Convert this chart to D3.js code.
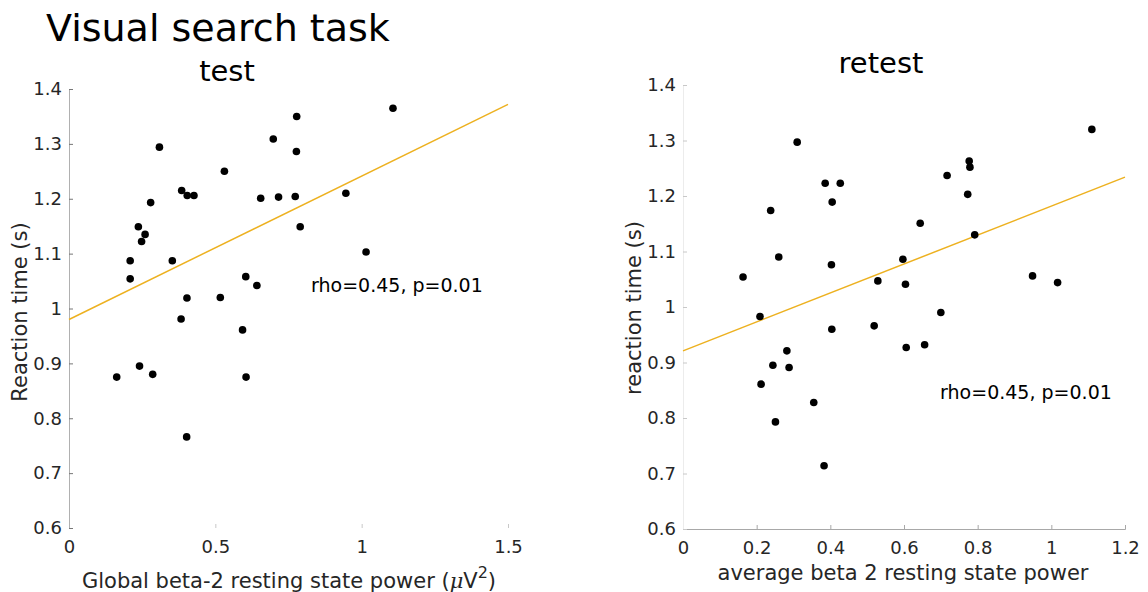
<!DOCTYPE html>
<html>
<head>
<meta charset="utf-8">
<script src="https://cdn.jsdelivr.net/npm/d3@7"></script>
<style>
  body { margin: 0; background: #fff; }
  text { font-family: "DejaVu Sans", sans-serif; }
</style>
</head>
<body>
<svg id="chart" width="1148" height="592"></svg>
<script>
// test session: global beta-2 power vs reaction time
const testPower = [0.163, 0.209, 0.209, 0.237, 0.248, 0.260, 0.279, 0.309, 0.353, 0.385, 0.404,
  0.427, 0.531, 0.655, 0.604, 0.642, 0.403, 0.517, 0.383, 0.593, 0.241, 0.286, 0.605, 0.402,
  1.107, 0.778, 0.698, 0.777, 0.716, 0.773, 0.946, 0.790, 1.015];
const testRT = [0.875, 1.087, 1.054, 1.149, 1.122, 1.135, 1.193, 1.294, 1.087, 1.215, 1.206,
  1.206, 1.250, 1.201, 1.058, 1.042, 1.019, 1.020, 0.981, 0.961, 0.895, 0.880, 0.875, 0.766,
  1.365, 1.350, 1.309, 1.286, 1.203, 1.204, 1.210, 1.149, 1.103];
const testFit = [[0, 0.98], [1.5, 1.372]];

// retest session
const retestPower = [0.310, 0.386, 0.427, 0.405, 0.238, 0.260, 0.163, 0.403, 0.529, 0.209, 0.404,
  0.519, 0.282, 0.244, 0.288, 0.212, 0.355, 0.251, 0.383, 1.110, 0.777, 0.779, 0.717, 0.773,
  0.644, 0.792, 0.597, 0.604, 0.949, 1.017, 0.606, 0.656, 0.700];
const retestRT = [1.297, 1.223, 1.223, 1.189, 1.174, 1.090, 1.054, 1.076, 1.047, 0.983, 0.960,
  0.966, 0.921, 0.895, 0.891, 0.861, 0.828, 0.793, 0.714, 1.320, 1.263, 1.252, 1.237, 1.203,
  1.151, 1.130, 1.086, 1.041, 1.056, 1.044, 0.927, 0.932, 0.990];
const retestFit = [[0, 0.921], [1.2, 1.234]];

const yTicks = [0.6, 0.7, 0.8, 0.9, 1, 1.1, 1.2, 1.3, 1.4];
const testXTicks = [0, 0.5, 1, 1.5];
const retestXTicks = [0, 0.2, 0.4, 0.6, 0.8, 1, 1.2];

const svg = d3.select('#chart');
const lineColor = '#EDB120';
const textColor = '#262626';

function drawPanel(p) {
    const x = d3.scaleLinear().domain(p.xDomain).range(p.xRange);
    const y = d3.scaleLinear().domain([0.6, 1.4]).range(p.yRange);
    const g = svg.append('g');

    const xAxis = g.append('g').attr('transform', `translate(0,${p.yRange[0]})`)
        .call(d3.axisBottom(x).tickValues(p.xTicks).tickFormat(d => d).tickSize(-4).tickPadding(12));
    xAxis.select('.domain').attr('stroke', p.xDomainColor);
    xAxis.selectAll('.tick line').attr('stroke', p.xTickColor);
    xAxis.selectAll('.tick text').attr('font-size', 18).attr('fill', textColor);

    const yAxis = g.append('g').attr('transform', `translate(${p.xRange[0]},0)`)
        .call(d3.axisLeft(y).tickValues(yTicks).tickFormat(d => d).tickSize(-4).tickPadding(7));
    yAxis.select('.domain').attr('stroke', p.yDomainColor);
    yAxis.selectAll('.tick line').attr('stroke', p.yTickColor);
    yAxis.selectAll('.tick text').attr('font-size', 18).attr('fill', textColor);

    g.append('path').datum(p.fit)
        .attr('d', d3.line().x(d => x(d[0])).y(d => y(d[1])))
        .attr('fill', 'none').attr('stroke', lineColor).attr('stroke-width', 1.5);

    g.append('g').selectAll('circle').data(p.xs).join('circle')
        .attr('cx', d => x(d)).attr('cy', (d, i) => y(p.ys[i]))
        .attr('r', 3.8).attr('fill', '#000');

    g.append('text').attr('x', x(p.rho[0])).attr('y', y(p.rho[1]))
        .attr('font-size', 19).attr('fill', '#000').attr('dominant-baseline', 'middle')
        .text('rho=0.45, p=0.01');

    g.append('text').attr('x', p.titlePos[0]).attr('y', p.titlePos[1])
        .attr('text-anchor', 'middle').attr('font-size', 29).attr('fill', '#000')
        .text(p.title);

    g.append('text').attr('transform', `translate(${p.yLabelPos[0]},${p.yLabelPos[1]}) rotate(-90)`)
        .attr('text-anchor', 'middle').attr('font-size', 21).attr('fill', textColor)
        .text(p.yLabel);

    const xl = g.append('text').attr('x', p.xLabelPos[0]).attr('y', p.xLabelPos[1])
        .attr('text-anchor', 'middle').attr('font-size', 21).attr('fill', textColor);
    p.xLabel(xl);
}

drawPanel({
    xDomain: [0, 1.5], xRange: [69, 508], yRange: [528, 89],
    xTicks: testXTicks, xs: testPower, ys: testRT, fit: testFit,
    xDomainColor: 'none', xTickColor: '#c8c8c8', yDomainColor: '#b0b0b0', yTickColor: '#777',
    rho: [0.827, 1.041], title: 'test', titlePos: [227, 81],
    yLabel: 'Reaction time (s)', yLabelPos: [27, 312], xLabelPos: [289, 588],
    xLabel: t => {
        t.append('tspan').text('Global beta-2 resting state power (');
        t.append('tspan').attr('font-style', 'italic').attr('font-family', '"DejaVu Serif", serif').text('μ');
        t.append('tspan').text('V');
        t.append('tspan').attr('font-size', 16).attr('dy', -10).text('2');
        t.append('tspan').attr('dy', 10).text(')');
    }
});

drawPanel({
    xDomain: [0, 1.2], xRange: [683, 1125], yRange: [529, 85],
    xTicks: retestXTicks, xs: retestPower, ys: retestRT, fit: retestFit,
    xDomainColor: '#a8a8a8', xTickColor: '#a8a8a8', yDomainColor: '#ececec', yTickColor: '#c8c8c8',
    rho: [0.698, 0.845], title: 'retest', titlePos: [881, 73],
    yLabel: 'reaction time (s)', yLabelPos: [641, 308], xLabelPos: [903, 580],
    xLabel: t => t.text('average beta 2 resting state power')
});

svg.append('text').attr('x', 46).attr('y', 41).attr('font-size', 38).attr('fill', '#000')
    .text('Visual search task');
</script>
</body>
</html>
